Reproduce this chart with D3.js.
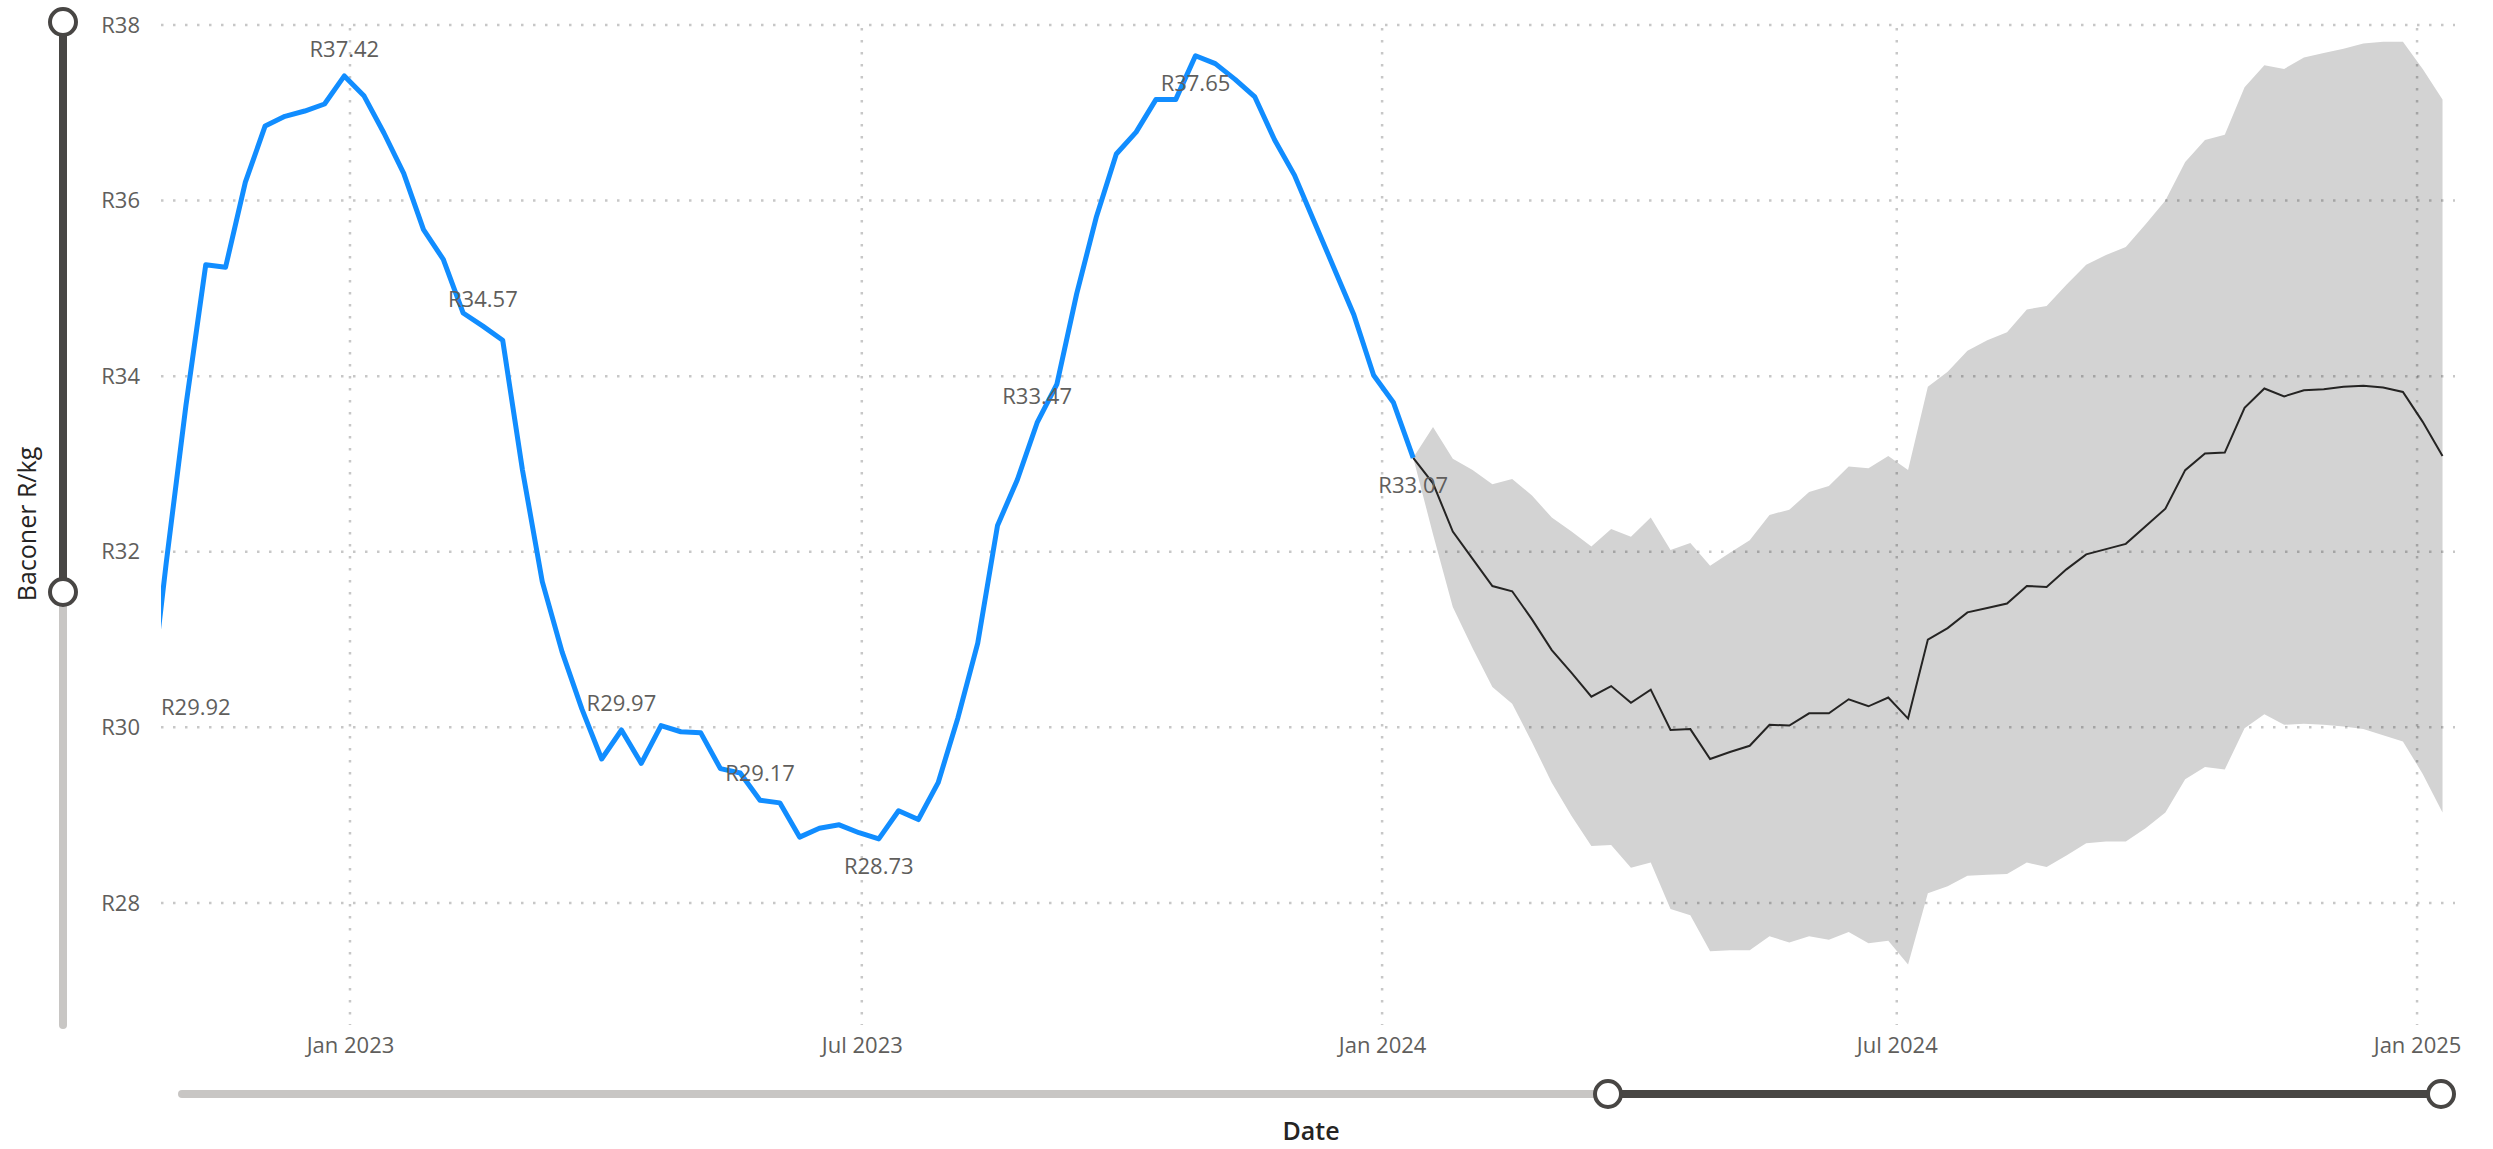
<!DOCTYPE html>
<html>
<head>
  <meta http-equiv="Content-Type" content="text/html;charset=utf-8">
  <title>Baconer R/kg</title>
  <script src="https://d3js.org/d3.v7.min.js"></script>
  <style type="text/css">
    body { margin: 0; background: #fff; }
    text { font-family: "Segoe UI", "Open Sans", sans-serif; }
    .grid line { stroke: rgba(0,0,0,0.22); stroke-width: 2.5px; stroke-dasharray: 2.5 9.5; }
    .tick-label { fill: #605E5C; font-size: 22px; }
    .data-label { fill: #605E5C; font-size: 22px; }
    .axis-title { fill: #252423; font-size: 25px; }
  </style>
</head>
<body>
  <svg width="2493" height="1149"></svg>
  <script type='text/javascript'>
    // weekly actual prices, first point 21 Oct 2022
    const actualStart = new Date(2022, 9, 21);
    const actual = [
      29.92, 31.87, 33.67, 35.27, 35.24, 36.21, 36.85, 36.96, 37.02, 37.10,
      37.42, 37.19, 36.77, 36.31, 35.67, 35.33, 34.72, 34.57, 34.41, 32.93,
      31.66, 30.86, 30.21, 29.64, 29.97, 29.59, 30.02, 29.95, 29.94, 29.53,
      29.48, 29.17, 29.14, 28.75, 28.85, 28.89, 28.80, 28.73, 29.05, 28.95,
      29.37, 30.11, 30.96, 32.30, 32.82, 33.47, 33.91, 34.94, 35.82, 36.53,
      36.78, 37.15, 37.15, 37.65, 37.56, 37.38, 37.18, 36.69, 36.29, 35.76,
      35.23, 34.70, 34.01, 33.70, 33.07
    ];

    // weekly forecast, first point 12 Jan 2024 (= last actual)
    const forecastStart = new Date(2024, 0, 12);
    const forecast = [
      33.07, 32.78, 32.23, 31.92, 31.61, 31.55, 31.23, 30.88, 30.62, 30.35,
      30.47, 30.28, 30.43, 29.97, 29.98, 29.64, 29.72, 29.79, 30.03, 30.02,
      30.16, 30.16, 30.32, 30.24, 30.34, 30.10, 31.00, 31.13, 31.31, 31.36,
      31.41, 31.61, 31.60, 31.80, 31.97, 32.03, 32.09, 32.29, 32.49, 32.93,
      33.12, 33.13, 33.64, 33.86, 33.77, 33.84, 33.85, 33.88, 33.89, 33.87,
      33.82, 33.48, 33.09
    ];
    const upper = [
      33.07, 33.42, 33.06, 32.93, 32.77, 32.83, 32.64, 32.39, 32.23, 32.06,
      32.26, 32.17, 32.39, 32.02, 32.10, 31.84, 31.99, 32.13, 32.42, 32.48,
      32.68, 32.75, 32.97, 32.95, 33.09, 32.93, 33.88, 34.05, 34.29, 34.41,
      34.50, 34.76, 34.80, 35.04, 35.27, 35.38, 35.47, 35.73, 36.00, 36.44,
      36.69, 36.75, 37.29, 37.54, 37.50, 37.63, 37.68, 37.73, 37.79, 37.81,
      37.81, 37.50, 37.15
    ];
    const lower = [
      33.07, 32.20, 31.37, 30.90, 30.46, 30.27, 29.83, 29.37, 28.99, 28.65,
      28.66, 28.40, 28.46, 27.93, 27.86, 27.45, 27.46, 27.46, 27.62, 27.55,
      27.62, 27.58, 27.67, 27.54, 27.57, 27.30, 28.11, 28.19, 28.31, 28.32,
      28.33, 28.46, 28.41, 28.54, 28.68, 28.70, 28.70, 28.85, 29.03, 29.41,
      29.55, 29.52, 29.99, 30.15, 30.03, 30.04, 30.03, 30.01, 29.98, 29.91,
      29.84, 29.47, 29.03
    ];

    // data labels shown on the actual series (index into actual)
    const labelIndex = [0, 10, 17, 24, 31, 37, 45, 53, 64];
    const labelBelow = [false, false, false, false, false, true, false, true, true];

    const yTicks = [28, 30, 32, 34, 36, 38];
    const xTicks = [new Date(2023, 0, 1), new Date(2023, 6, 1), new Date(2024, 0, 1),
                    new Date(2024, 6, 1), new Date(2025, 0, 1)];
    const xDomain = [new Date(2022, 9, 26, 4), new Date(2025, 0, 14, 10)];
    const yDomain = [26.61, 38.034];

    const plot = { left: 161, right: 2455, top: 22, bottom: 1025 };

    const svg = d3.select('svg');
    const x = d3.scaleTime().domain(xDomain).range([plot.left, plot.right]);
    const y = d3.scaleLinear().domain(yDomain).range([plot.bottom, plot.top]);

    const actualData = actual.map((v, i) => ({ date: d3.timeDay.offset(actualStart, 7 * i), v }));
    const fcData = forecast.map((v, i) => ({
      date: d3.timeDay.offset(forecastStart, 7 * i), v, hi: upper[i], lo: lower[i]
    }));

    svg.append('clipPath').attr('id', 'clip')
      .append('rect')
        .attr('x', plot.left).attr('y', plot.top)
        .attr('width', plot.right - plot.left).attr('height', plot.bottom - plot.top);

    // confidence band
    svg.append('path')
      .datum(fcData)
      .attr('clip-path', 'url(#clip)')
      .attr('fill', '#D3D3D3')
      .attr('d', d3.area().x(d => x(d.date)).y0(d => y(d.lo)).y1(d => y(d.hi)));

    // gridlines
    const grid = svg.append('g').attr('class', 'grid');
    grid.selectAll('.h').data(yTicks).enter().append('line')
      .attr('x1', plot.left).attr('x2', plot.right)
      .attr('y1', d => y(d)).attr('y2', d => y(d));
    grid.selectAll('.v').data(xTicks).enter().append('line')
      .attr('x1', d => x(d)).attr('x2', d => x(d))
      .attr('y1', y(38) + 3).attr('y2', plot.bottom);

    // y axis labels
    const yAxis = svg.append('g')
      .attr('transform', `translate(${plot.left},0)`)
      .call(d3.axisLeft(y).tickValues(yTicks).tickSize(0).tickPadding(21).tickFormat(d => 'R' + d));
    yAxis.select('.domain').remove();
    yAxis.selectAll('text').attr('class', 'tick-label').attr('fill', null).attr('font-size', null).attr('font-family', null);

    // x axis labels
    const xAxis = svg.append('g')
      .attr('transform', `translate(0,${plot.bottom})`)
      .call(d3.axisBottom(x).tickValues(xTicks).tickSize(0).tickPadding(12).tickFormat(d3.timeFormat('%b %Y')));
    xAxis.select('.domain').remove();
    xAxis.selectAll('text').attr('class', 'tick-label').attr('fill', null).attr('font-size', null).attr('font-family', null);

    // lines
    svg.append('path')
      .datum(fcData)
      .attr('clip-path', 'url(#clip)')
      .attr('fill', 'none')
      .attr('stroke', '#252423')
      .attr('stroke-width', 2)
      .attr('d', d3.line().x(d => x(d.date)).y(d => y(d.v)));

    svg.append('path')
      .datum(actualData)
      .attr('clip-path', 'url(#clip)')
      .attr('fill', 'none')
      .attr('stroke', '#118DFF')
      .attr('stroke-width', 5)
      .attr('stroke-linejoin', 'round')
      .attr('d', d3.line().x(d => x(d.date)).y(d => y(d.v)));

    // data labels
    labelIndex.forEach((idx, j) => {
      const d = actualData[idx];
      const t = svg.append('text')
        .attr('class', 'data-label')
        .attr('text-anchor', 'middle')
        .attr('x', x(d.date))
        .attr('y', labelBelow[j] ? y(d.v) + 35 : y(d.v) - 19)
        .text('R' + d.v.toFixed(2));
      const box = t.node().getBBox();
      if (box.x < plot.left) t.attr('x', plot.left + box.width / 2);
    });

    // zoom sliders
    const sl = svg.append('g');
    sl.append('line').attr('x1', 63).attr('x2', 63).attr('y1', 592).attr('y2', 1025)
      .attr('stroke', '#C8C6C4').attr('stroke-width', 8).attr('stroke-linecap', 'round');
    sl.append('line').attr('x1', 63).attr('x2', 63).attr('y1', 22).attr('y2', 592)
      .attr('stroke', '#484644').attr('stroke-width', 8);
    sl.append('line').attr('x1', 182).attr('x2', 1608).attr('y1', 1094).attr('y2', 1094)
      .attr('stroke', '#C8C6C4').attr('stroke-width', 8).attr('stroke-linecap', 'round');
    sl.append('line').attr('x1', 1608).attr('x2', 2441).attr('y1', 1094).attr('y2', 1094)
      .attr('stroke', '#484644').attr('stroke-width', 8);
    [[63, 22], [63, 592], [1608, 1094], [2441, 1094]].forEach(c => {
      sl.append('circle').attr('cx', c[0]).attr('cy', c[1]).attr('r', 13)
        .attr('fill', '#fff').attr('stroke', '#484644').attr('stroke-width', 4);
    });

    // axis titles
    svg.append('text').attr('class', 'axis-title')
      .attr('transform', 'translate(36,524) rotate(-90)')
      .attr('text-anchor', 'middle')
      .text('Baconer R/kg');
    svg.append('text').attr('class', 'axis-title')
      .attr('x', 1311).attr('y', 1140)
      .attr('text-anchor', 'middle')
      .attr('font-weight', 600)
      .attr('font-size', '24px')
      .text('Date');
  </script>
</body>
</html>
